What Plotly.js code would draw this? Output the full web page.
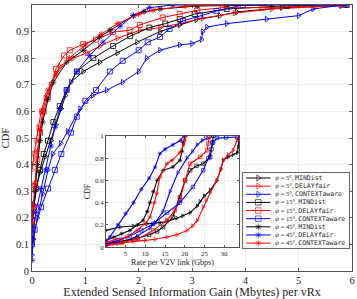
<!DOCTYPE html>
<html><head><meta charset="utf-8">
<script src="https://cdn.plot.ly/plotly-3.0.1.min.js"></script>
<style>html,body{margin:0;padding:0;background:#fff}#chart{width:357px;height:299px}</style>
</head><body><div id="chart"></div>
<script>
// ---------- series meta ----------
const schemes = ['MINDist','DELAYfair','CONTEXTaware','MINDist','DELAYfair','CONTEXTaware','MINDist','DELAYfair','CONTEXTaware'];
const angles = ['5°','5°','5°','15°','15°','15°','45°','45°','45°'];
const colors = ['#000000','#ff0000','#0000ff','#000000','#ff0000','#0000ff','#000000','#0000ff','#ff0000'];
const symbols = ['triangle-right-open','triangle-right-open','triangle-right-open','square-open','square-open','square-open','asterisk-open','asterisk-open','asterisk-open'];

// ---------- main plot: Extended sensed information gain (Mbytes) vs CDF ----------
const gain5MinX  = [0,0.03,0.08,0.15,0.25,0.36,0.45,0.55,0.63,0.73,0.96,1.27,1.6,1.97,2.4,2.77,3.08,3.52,3.84,4.68,5.8];
const gain5MinY  = [0.2,0.25,0.31,0.37,0.43,0.49,0.55,0.61,0.66,0.71,0.75,0.785,0.82,0.86,0.9,0.925,0.945,0.96,0.974,0.99,0.997];
const gain5DelX  = [0,0.01,0.04,0.08,0.12,0.17,0.25,0.35,0.45,0.52,0.77,1.03,1.27,1.6,2.02,2.4,2.77,3.2,3.8,4.5,5.3,5.9];
const gain5DelY  = [0.38,0.4,0.44,0.49,0.54,0.6,0.65,0.7,0.74,0.77,0.8,0.82,0.845,0.875,0.905,0.915,0.93,0.95,0.97,0.985,0.993,1.0];
const gain5CtxX  = [0,0.03,0.1,0.2,0.3,0.39,0.54,0.67,0.9,1.14,1.4,1.7,2.0,2.15,2.4,2.77,3.0,3.18,3.2,3.28,3.65,4.4,5.0,5.27,5.83];
const gain5CtxY  = [0.06,0.12,0.2,0.29,0.38,0.44,0.48,0.525,0.61,0.66,0.68,0.71,0.75,0.8,0.83,0.85,0.855,0.87,0.9,0.917,0.93,0.947,0.96,0.985,1.0];
const gain15MinX = [0,0.03,0.08,0.15,0.22,0.3,0.4,0.52,0.65,0.84,1.15,1.52,1.84,2.2,2.5,2.77,3.05,3.65,4.78,5.9];
const gain15MinY = [0.19,0.24,0.31,0.38,0.44,0.49,0.56,0.62,0.68,0.75,0.8,0.846,0.883,0.915,0.93,0.947,0.966,0.985,0.997,1.0];
const gain15DelX = [0,0.01,0.03,0.06,0.1,0.15,0.22,0.3,0.45,0.6,0.71,0.96,1.2,1.52,1.83,2.02,2.45,2.77,3.1,3.58,4.33,5.8];
const gain15DelY = [0.12,0.17,0.24,0.32,0.42,0.52,0.6,0.66,0.76,0.81,0.83,0.853,0.87,0.898,0.905,0.925,0.953,0.966,0.98,0.99,0.99,1.0];
const gain15CtxX = [0,0.05,0.17,0.3,0.43,0.55,0.73,0.84,1.0,1.2,1.46,1.7,2.0,2.17,2.4,2.58,2.83,3.15,3.46,3.95];
const gain15CtxY = [0.1,0.155,0.24,0.31,0.38,0.44,0.52,0.58,0.64,0.68,0.75,0.79,0.83,0.86,0.88,0.91,0.94,0.96,0.977,1.0];
const gain45MinX = [0,0.02,0.05,0.1,0.15,0.2,0.3,0.4,0.65,0.96,1.27,1.46,1.9,2.1,2.4,3.1,4.5];
const gain45MinY = [0.17,0.22,0.3,0.4,0.49,0.56,0.645,0.71,0.785,0.83,0.88,0.905,0.96,0.975,0.985,0.996,1.0];
const gain45DelX = [0,0.01,0.07,0.17,0.26,0.36,0.43,0.52,0.65,0.84,1.08,1.33,1.65,1.9,2.2,2.64,5.9];
const gain45DelY = [0.04,0.12,0.22,0.31,0.38,0.47,0.54,0.61,0.68,0.75,0.81,0.86,0.92,0.96,0.99,1.0,1.0];
const gain45CtxX = [0,0.02,0.05,0.1,0.15,0.2,0.3,0.45,0.7,1.0,1.3,1.6,2.0,2.27,2.87,3.6];
const gain45CtxY = [0.18,0.24,0.33,0.45,0.53,0.6,0.68,0.74,0.8,0.85,0.89,0.93,0.965,0.98,0.996,1.0];

// ---------- inset: rate per V2V link (Gbps) vs CDF ----------
const rate5MinX  = [0,3.6,6.9,10.4,13.7,15.5,18,19.5,21.4,23.2,23.9,25,26.5,28.2,29.2,29.8,31,32.3,33.4,33.6,33.8];
const rate5MinY  = [0.15,0.18,0.19,0.21,0.22,0.23,0.26,0.28,0.31,0.37,0.41,0.46,0.51,0.6,0.7,0.78,0.81,0.83,0.85,0.9,0.98];
const rate5DelX  = [0,3,6.9,10,12.5,15.5,18,20.6,22,23.2,24.7,25.5,26.5,28.2,29.2,29.8,31,32.3,33.3,33.7];
const rate5DelY  = [0.01,0.03,0.05,0.06,0.07,0.09,0.11,0.15,0.19,0.24,0.36,0.42,0.49,0.6,0.7,0.78,0.83,0.87,0.96,1.0];
const rate5CtxX  = [0,2,5.3,8,11.2,12.5,14.5,16.3,18.3,20.6,22,23.2,24.5,25.7,26.5];
const rate5CtxY  = [0.02,0.04,0.06,0.1,0.17,0.22,0.32,0.5,0.67,0.8,0.86,0.92,0.96,0.98,0.99];
const rate15MinX = [0,4,8,11,13,14.5,17,18.8,20.1,21.4,23,24.7,26.5,26.8,27,27.3];
const rate15MinY = [0.03,0.05,0.08,0.11,0.14,0.18,0.27,0.45,0.6,0.69,0.73,0.75,0.81,0.88,0.94,1.0];
const rate15DelX = [0,4,8,12,15.5,17.5,18.8,20.1,21.4,23.9,25.7,26,26.2];
const rate15DelY = [0.02,0.04,0.07,0.15,0.24,0.33,0.42,0.6,0.75,0.81,0.87,0.93,0.99];
const rate15CtxX = [0,3,6,9,12,15.5,18.8,22.1,24.7,26,27.2,28.2,30.5,33.3];
const rate15CtxY = [0.03,0.06,0.1,0.15,0.21,0.31,0.4,0.54,0.69,0.8,0.94,0.98,0.985,0.99];
const rate45MinX = [0,2,4,6.1,8,9.4,10.5,11.2,12,13,14.5,17,18.8,19.3,19.6,20.2];
const rate45MinY = [0.06,0.09,0.12,0.15,0.2,0.24,0.32,0.4,0.5,0.6,0.69,0.72,0.78,0.86,0.94,1.0];
const rate45DelX = [0,1,3,5,7,9,11,12.5,13.7,15,17,19,19.8];
const rate45DelY = [0.04,0.09,0.2,0.3,0.4,0.52,0.62,0.72,0.84,0.88,0.92,0.96,1.0];
const rate45CtxX = [0,2.5,5.3,7.9,9.9,11.2,12.3,12.9,13.7,15.5,16.8,18.8,19.7,20,20.3];
const rate45CtxY = [0.04,0.07,0.09,0.15,0.21,0.27,0.4,0.48,0.63,0.75,0.78,0.85,0.92,0.96,1.0];

const mainX = [gain5MinX,gain5DelX,gain5CtxX,gain15MinX,gain15DelX,gain15CtxX,gain45MinX,gain45DelX,gain45CtxX];
const mainY = [gain5MinY,gain5DelY,gain5CtxY,gain15MinY,gain15DelY,gain15CtxY,gain45MinY,gain45DelY,gain45CtxY];
const insetX = [rate5MinX,rate5DelX,rate5CtxX,rate15MinX,rate15DelX,rate15CtxX,rate45MinX,rate45DelX,rate45CtxX];
const insetY = [rate5MinY,rate5DelY,rate5CtxY,rate15MinY,rate15DelY,rate15CtxY,rate45MinY,rate45DelY,rate45CtxY];

const mainTicksX = [0,1,2,3,4,5,6];
const insetTicksX = [5,10,15,20,25,30];

const serif = 'Liberation Serif, Times New Roman, serif';
const mono = 'DejaVu Sans Mono, Liberation Mono, monospace';
const axisCol = '#262626';
const gridCol = '#e6e6e6';

const traces = [];
const annotations = [];
for (let i = 0; i < 9; i++) {
  traces.push({
    x: mainX[i], y: mainY[i], xaxis: 'x', yaxis: 'y', type: 'scatter', mode: 'lines+markers',
    line: {color: colors[i], width: 1},
    marker: {symbol: symbols[i], size: 5, color: colors[i], line: {color: colors[i], width: 0.8}},
    showlegend: false, cliponaxis: true, hoverinfo: 'skip'
  });
  traces.push({
    x: insetX[i], y: insetY[i], xaxis: 'x2', yaxis: 'y2', type: 'scatter', mode: 'lines+markers',
    line: {color: colors[i], width: 1.1},
    marker: {symbol: symbols[i], size: 3.5, color: colors[i], line: {color: colors[i], width: 0.7}},
    showlegend: false, hoverinfo: 'skip'
  });
  // legend sample (layout position in legend box)
  const ly = 8 - i;
  traces.push({
    x: [0.03, 0.145, 0.26], y: [ly, ly, ly], xaxis: 'x3', yaxis: 'y3', type: 'scatter', mode: 'lines+markers',
    line: {color: colors[i], width: 1},
    marker: {symbol: symbols[i], size: [0, 5.5, 0], color: colors[i], line: {color: colors[i], width: 0.9}},
    showlegend: false, hoverinfo: 'skip'
  });
  annotations.push({
    xref: 'x3', yref: 'y3', x: 0.285, y: ly, xanchor: 'left', yanchor: 'middle', showarrow: false,
    text: '<i>ψ</i> = ' + angles[i] + ', <span style="font-family:' + mono + '">' + schemes[i] + '</span>',
    font: {family: serif, size: 6.5, color: '#262626'}
  });
}

const baseAxis = {
  showline: true, mirror: 'ticks', linecolor: axisCol, linewidth: 0.8,
  ticks: 'inside', tickcolor: axisCol, tickwidth: 0.7,
  gridcolor: gridCol, gridwidth: 0.7, zeroline: false, fixedrange: true,
  tickfont: {family: serif, color: axisCol}
};

const layout = {
  width: 357, height: 299,
  margin: {l: 32, r: 5, t: 5, b: 28},
  paper_bgcolor: '#ffffff', plot_bgcolor: '#ffffff',
  showlegend: false,
  xaxis: Object.assign({}, baseAxis, {
    domain: [0, 1], anchor: 'y', range: [0, 6], tickvals: mainTicksX, ticklen: 3,
    tickfont: {family: serif, size: 10.5, color: axisCol},
    title: {text: 'Extended Sensed Information Gain (Mbytes) per vRx', font: {family: serif, size: 12, color: axisCol}, standoff: 4}
  }),
  yaxis: Object.assign({}, baseAxis, {
    domain: [0, 1], anchor: 'x', range: [0, 1], dtick: 0.1, ticklen: 3,
    tickfont: {family: serif, size: 10.5, color: axisCol},
    title: {text: 'CDF', font: {family: serif, size: 10.5, color: axisCol}, standoff: 6}
  }),
  xaxis2: Object.assign({}, baseAxis, {
    domain: [0.231, 0.647], anchor: 'y2', range: [0, 33.8], tickvals: insetTicksX, ticklen: 2,
    tickfont: {family: serif, size: 7, color: axisCol},
    title: {text: 'Rate per V2V link (Gbps)', font: {family: serif, size: 8, color: axisCol}, standoff: 2}
  }),
  yaxis2: Object.assign({}, baseAxis, {
    domain: [0.09, 0.508], anchor: 'x2', range: [0, 1], dtick: 0.2, ticklen: 2,
    tickfont: {family: serif, size: 7, color: axisCol},
    title: {text: 'CDF', font: {family: serif, size: 8, color: axisCol}, standoff: 3}
  }),
  xaxis3: {domain: [0.659, 0.991], anchor: 'y3', range: [0, 1], showgrid: false, zeroline: false,
    showticklabels: false, ticks: '', showline: true, mirror: true, linecolor: '#444', linewidth: 0.8, fixedrange: true},
  yaxis3: {domain: [0.0865, 0.368], anchor: 'x3', range: [-0.6, 8.6], showgrid: false, zeroline: false,
    showticklabels: false, ticks: '', showline: true, mirror: true, linecolor: '#444', linewidth: 0.8, fixedrange: true},
  annotations: annotations
};

Plotly.newPlot('chart', traces, layout, {displayModeBar: false, staticPlot: true});
</script></body></html>
